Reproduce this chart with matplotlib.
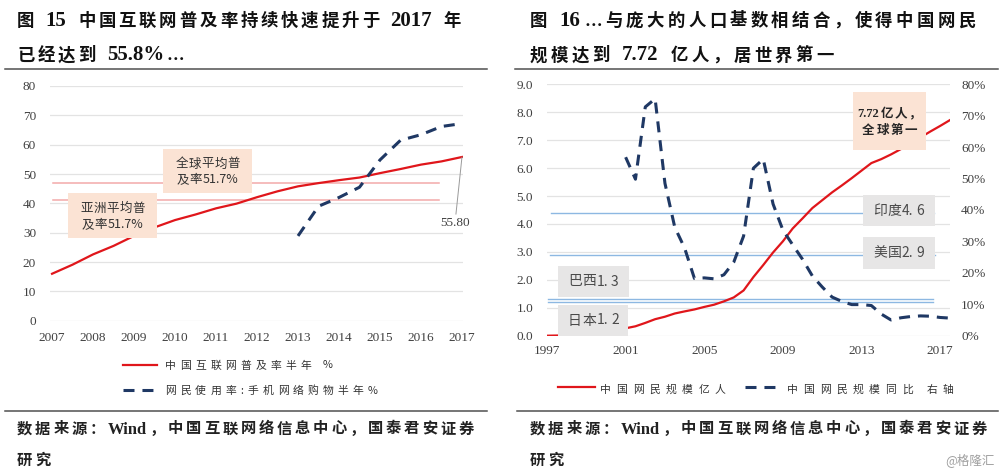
import re
import numpy as np
import matplotlib
matplotlib.use("Agg")
import matplotlib.pyplot as plt
from matplotlib.patches import Rectangle
from matplotlib.lines import Line2D

W, H = 1000, 471

# ---------------- data : left chart (half-year, 2007.12 .. 2017.12) ----------------
pen_years = ["2007", "2008", "2009", "2010", "2011", "2012", "2013", "2014", "2015", "2016", "2017"]
pen_rate = [16.0, 19.1, 22.6, 25.5, 28.9, 31.8, 34.3, 36.2, 38.3, 39.9, 42.1,
            44.1, 45.8, 46.9, 47.9, 48.8, 50.3, 51.7, 53.2, 54.3, 55.8]
mshop_rate = [np.nan] * 12 + [28.9, 39.0, 42.0, 45.5, 54.8, 61.5, 63.4, 66.2, 67.2]
global_avg = 47.1
asia_avg = 41.2

# ---------------- data : right chart (half-year, 1997 .. 2017.12) ----------------
net_years = ["1997", "2001", "2005", "2009", "2013", "2017"]
netizens = [0.0, 0.0062, 0.0117, 0.021, 0.04, 0.089, 0.169, 0.225, 0.265, 0.337,
            0.458, 0.591, 0.68, 0.795, 0.87, 0.94, 1.03, 1.11, 1.23, 1.37,
            1.62, 2.10, 2.53, 2.98, 3.38, 3.84, 4.20, 4.57, 4.85, 5.13,
            5.38, 5.64, 5.91, 6.18, 6.32, 6.49, 6.68, 6.88, 7.10, 7.31,
            7.51, 7.72]
net_yoy = [np.nan] * 8 + [56.8, 49.8, 72.8, 75.4, 48.5, 34.5, 27.9, 18.2, 18.4, 18.1,
                          19.4, 23.4, 31.7, 53.3, 56.2, 41.9, 33.6, 28.9, 24.3, 19.0,
                          15.5, 12.3, 10.9, 9.9, 9.9, 9.6, 6.9, 5.0, 5.7, 6.1,
                          6.3, 6.2, 5.8, 5.6]
country_names = ["印度4. 6", "美国2. 9", "巴西1. 3", "日本1. 2"]
country_lines = [4.38, 2.9, 1.32, 1.19]

RED = "#e0161b"
NAVY = "#1f3864"
GRID = "#e3e3e3"
TXT = "#404040"
PEACH = "#fbe3d4"
GRAYBOX = "#e7e6e6"
REFBLUE = "#8db8e2"
PINK = "#f3a9a9"

SERIF = ["Liberation Serif", "Noto Sans CJK SC"]
CJK = ["Noto Sans CJK SC", "DejaVu Sans"]

fig = plt.figure(figsize=(W / 100, H / 100), dpi=100)
fig.patch.set_facecolor("white")
R = fig.canvas.get_renderer()


def fx(x):
    return x / W


def fy(y):
    return 1 - y / H


def tokens(s):
    return re.findall(r"[\x21-\x7e]+|\s|[^\x00-\x7f]", s)


def spaced(x, y, s, sp, ha="left", latin=1.0, space=0.35, **kw):
    toks = tokens(s)
    widths, sizes = [], []
    fs = kw.pop("fontsize", 10)
    for tk in toks:
        size = fs * latin if re.match(r"[\x21-\x7e]", tk) else fs
        sizes.append(size)
        if tk.isspace():
            widths.append(fs * space)
            continue
        t = fig.text(0, 0, tk, fontsize=size, **kw)
        widths.append(t.get_window_extent(R).width)
        t.remove()
    total = sum(widths) + sp * (len(toks) - 1)
    if ha == "center":
        cx = x - total / 2
    elif ha == "right":
        cx = x - total
    else:
        cx = x
    for tk, w, size in zip(toks, widths, sizes):
        if not tk.isspace():
            fig.text(fx(cx), fy(y), tk, ha="left", va="baseline", zorder=5,
                     fontsize=size, **kw)
        cx += w + sp


def hline(x0, x1, y, color, lw):
    fig.add_artist(Line2D([fx(x0), fx(x1)], [fy(y), fy(y)], color=color, lw=lw,
                          transform=fig.transFigure))


def box(x0, y0, x1, y1, color):
    fig.add_artist(Rectangle((fx(x0), fy(y1)), fx(x1) - fx(x0), fy(y0) - fy(y1),
                             transform=fig.transFigure, facecolor=color,
                             edgecolor="none", zorder=3))


# ---------------- titles / separators / footers ----------------
title_kw = dict(fontsize=12.5, fontweight="bold", color="#111111", family=SERIF)
spaced(17, 25.5, "图 15 中国互联网普及率持续快速提升于 2017 年", 2.9, latin=1.2, space=0.45, **title_kw)
spaced(17, 60.5, "已经达到 55.8%…", 2.9, latin=1.2, space=0.45, **title_kw)
spaced(530, 25.5, "图 16…与庞大的人口基数相结合，使得中国网民", 3.4, latin=1.2, space=0.45, **title_kw)
spaced(530, 60.5, "规模达到 7.72 亿人，居世界第一", 3.4, latin=1.2, space=0.45, **title_kw)

hline(5, 487, 68.5, "#505050", 1.1)
hline(515, 998, 68.5, "#505050", 1.1)
hline(5, 487, 411, "#505050", 1.1)
hline(517, 998, 411, "#505050", 1.1)

foot_kw = dict(fontsize=11, fontweight="bold", color="#222222", family=SERIF)
spaced(17, 433.5, "数据来源：Wind，中国互联网络信息中心，国泰君安证券", 2.9, latin=1.08, **foot_kw)
spaced(17, 465, "研究", 2.9, **foot_kw)
spaced(530, 433.5, "数据来源：Wind，中国互联网络信息中心，国泰君安证券", 2.9, latin=1.08, **foot_kw)
spaced(530, 465, "研究", 2.9, **foot_kw)
fig.text(fx(995), fy(460), "@格隆汇", ha="right", va="center", fontsize=9,
         color="#a0a0a0", family=CJK)

# ---------------- left chart ----------------
axL = fig.add_axes([fx(50), fy(320.7), fx(463) - fx(50), fy(86) - fy(320.7)])
xl = np.arange(len(pen_rate))
axL.set_xlim(-0.1, len(pen_rate) - 1 + 0.05)
axL.set_ylim(0, 80)
axL.set_yticks(np.arange(0, 81, 10))
axL.set_xticks(xl[::2])
axL.set_xticklabels(pen_years)
axL.grid(axis="y", color=GRID, lw=0.9)
axL.set_axisbelow(True)
for s in axL.spines.values():
    s.set_visible(False)
axL.tick_params(length=0, labelsize=9.5, labelcolor=TXT)
axL.tick_params(axis="x", pad=8)
axL.tick_params(axis="y", pad=10)
for lab in axL.get_xticklabels() + axL.get_yticklabels():
    lab.set_family(SERIF)
axL.axhline(global_avg, xmin=0.007, xmax=0.942, color=PINK, lw=1.1)
axL.axhline(asia_avg, xmin=0.007, xmax=0.942, color=PINK, lw=1.1)
axL.plot(xl, pen_rate, color=RED, lw=1.6)
axL.plot(xl, mshop_rate, color=NAVY, lw=2.2, dashes=(3.6, 2.6))
axL.annotate(f"{pen_rate[-1]:.2f}", xy=(xl[-1], pen_rate[-1]), xycoords="data",
             xytext=(455, H - 223), textcoords="figure pixels", ha="center", va="center",
             fontsize=9.5, color=TXT, family=SERIF,
             arrowprops=dict(arrowstyle="-", color="#9a9a9a", lw=0.7, shrinkA=0, shrinkB=0))

box(163, 149, 252, 192.7, PEACH)
box(68, 193, 157, 237.7, PEACH)
bx_kw = dict(fontsize=9, color="#333333", family=CJK)
spaced(207.5, 167.5, "全球平均普", 0.5, ha="center", **bx_kw)
spaced(207.5, 183, "及率51.7%", 0.5, ha="center", **bx_kw)
spaced(112.5, 212, "亚洲平均普", 0.5, ha="center", **bx_kw)
spaced(112.5, 228, "及率51.7%", 0.5, ha="center", **bx_kw)

# legend left
leg_kw = dict(fontsize=7.8, color="#333333", family=CJK)
hline(123, 157, 364.5, RED, 1.6)
spaced(165, 368.5, "中国互联网普及率半年 %", 4.2, **leg_kw)
fig.add_artist(Line2D([fx(123), fx(157)], [fy(389.5), fy(389.5)], color=NAVY, lw=2.2,
                      dashes=(3.6, 2.6), transform=fig.transFigure))
spaced(165, 394, "网民使用率:手机网络购物半年%", 4.2, **leg_kw)

# ---------------- right chart ----------------
axR = fig.add_axes([fx(547), fy(335.7), fx(950) - fx(547), fy(84.3) - fy(335.7)])
xr = np.arange(len(netizens))
axR.set_xlim(0, len(netizens) - 1)
axR.set_ylim(0, 9)
axR.set_yticks(np.arange(0, 9.1, 1))
axR.set_yticklabels([f"{v:.1f}" for v in np.arange(0, 9.1, 1)])
axR.set_xticks(xr[::8])
axR.set_xticklabels(net_years)
axR.grid(axis="y", color=GRID, lw=0.9)
axR.set_axisbelow(True)
for s in axR.spines.values():
    s.set_visible(False)
axR.tick_params(length=0, labelsize=9.5, labelcolor=TXT)
axR.tick_params(axis="x", pad=7)
axR.tick_params(axis="y", pad=10)
for lab in axR.get_xticklabels() + axR.get_yticklabels():
    lab.set_family(SERIF)

spans = [(0.01, 0.96), (0.007, 0.963), (0.0025, 0.958), (0.0025, 0.958)]
for v, (a, b) in zip(country_lines, spans):
    axR.axhline(v, xmin=a, xmax=b, color=REFBLUE, lw=1.0)
axR.plot(xr, netizens, color=RED, lw=1.6, zorder=3)

axR2 = axR.twinx()
axR2.set_ylim(0, 80)
axR2.set_yticks(np.arange(0, 81, 10))
axR2.set_yticklabels([f"{v}%" for v in range(0, 81, 10)])
for s in axR2.spines.values():
    s.set_visible(False)
axR2.tick_params(length=0, labelsize=9.5, labelcolor=TXT, pad=8)
for lab in axR2.get_yticklabels():
    lab.set_family(SERIF)
axR2.plot(xr, net_yoy, color=NAVY, lw=2.2, dashes=(3.6, 2.6))

gb_kw = dict(fontsize=10, color="#4a4a4a", family=CJK)
box(863, 195, 935, 226, GRAYBOX)
box(863, 237, 935, 268.7, GRAYBOX)
box(557.7, 265.7, 629, 296.7, GRAYBOX)
box(557.7, 305, 628, 335.7, GRAYBOX)
spaced(899, 215, country_names[0], 0.3, ha="center", space=0.25, **gb_kw)
spaced(899, 257, country_names[1], 0.3, ha="center", space=0.25, **gb_kw)
spaced(593.4, 285.5, country_names[2], 0.3, ha="center", space=0.25, **gb_kw)
spaced(593.4, 324.5, country_names[3], 0.3, ha="center", space=0.25, **gb_kw)

box(853, 91.7, 926, 150, PEACH)
pk_kw = dict(fontsize=9, fontweight="bold", color="#262626", family=SERIF)
spaced(889.5, 117, f"{netizens[-1]:.2f}亿人，", 1.5, ha="center", **pk_kw)
spaced(889.5, 134, "全球第一", 1.5, ha="center", **pk_kw)

# legend right
hline(558, 595, 387, RED, 1.6)
spaced(600, 392.5, "中国网民规模亿人", 5.5, **leg_kw)
fig.add_artist(Line2D([fx(745), fx(775)], [fy(387), fy(387)], color=NAVY, lw=2.2,
                      dashes=(3.6, 2.6), transform=fig.transFigure))
spaced(787, 392.5, "中国网民规模同比 右轴", 5.5, **leg_kw)

fig.savefig("out.png", dpi=100, facecolor="white")
